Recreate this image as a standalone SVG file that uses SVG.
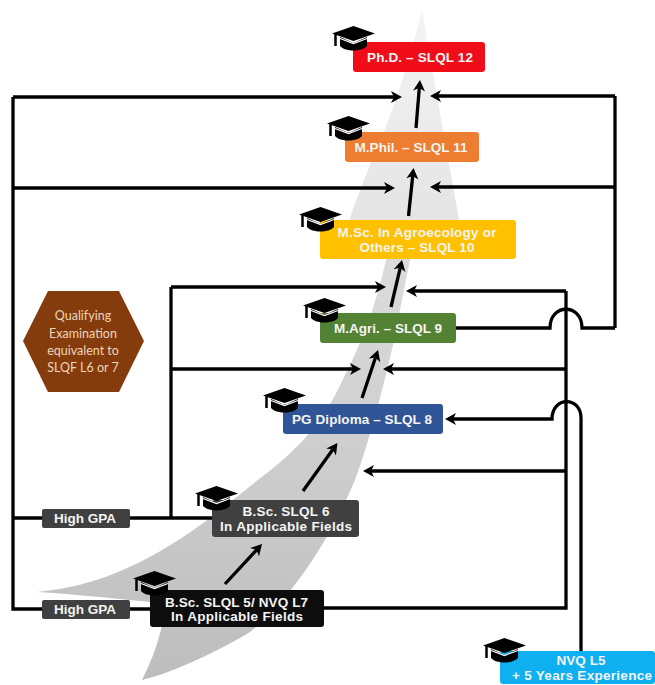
<svg xmlns="http://www.w3.org/2000/svg" xmlns:xlink="http://www.w3.org/1999/xlink" width="655" height="685" viewBox="0 0 655 685">
<style>
.box{stroke:none}
.t{font-family:"Liberation Sans",Arial,sans-serif;font-weight:700;font-size:13.5px;fill:#f4f4f4;text-anchor:middle}
.h{font-family:Lato,"Open Sans",sans-serif;font-size:12.5px;fill:#edd5bd;text-anchor:middle}
.c{fill:none;stroke:#000;stroke-width:3.3}
.a{marker-end:url(#ah)}
</style>
<defs>
<marker id="ah" markerUnits="userSpaceOnUse" markerWidth="12" markerHeight="13" refX="3" refY="6" orient="auto" overflow="visible"><path d="M0,0L11,6L0,12L3,6Z" fill="#000"/></marker>
<linearGradient id="g1" x1="0" y1="0" x2="0" y2="1"><stop offset="0" stop-color="#f4f4f4"/><stop offset="1" stop-color="#e2e2e2"/></linearGradient>
<linearGradient id="g2" x1="0" y1="0" x2="0" y2="1"><stop offset="0" stop-color="#dcdcdc"/><stop offset="1" stop-color="#bdbdbd"/></linearGradient>
<symbol id="hat" viewBox="0 0 43 25" overflow="visible">
<path d="M8,11V20C13,26 30,26 35,20V11L21.500,17Z" fill="#000"/>
<path d="M8,12.500L21.500,17.500L35,12.500" fill="none" stroke="#fff" stroke-width="1.200"/>
<path d="M0,7.500L21.500,0L43,7.500L21.500,15Z" fill="#000"/>
<path d="M3.500,8V20" stroke="#000" stroke-width="2.500" fill="none"/>
</symbol>
</defs>
<rect width="655" height="685" fill="#fff"/>
<g id="path-band">
<path d="M422,10C412,50 395,110 370,165C360,190 350,215 340,250L465,250C455,200 447,150 434,80Z" fill="url(#g1)"/>
<path d="M387,255C380,290 366,335 345,375C325,420 300,447 267,473C235,497 205,525 167,547C130,570 85,588 37,592C70,594 110,598 150,602L165,610C160,640 152,660 142,680C175,672 220,650 250,632C290,600 330,540 355,480C370,440 385,380 393,345L411,255Z" fill="url(#g2)"/>
</g>
<g id="connectors">
<path class="c a" d="M13,97H394"/>
<path class="c" d="M13,97V609H150"/>
<path class="c a" d="M13,188H387"/>
<path class="c" d="M13,518H212"/>
<path class="c" d="M171,518V287"/>
<path class="c a" d="M171,287H378"/>
<path class="c a" d="M171,369H353"/>
<path class="c" d="M615,328V96"/>
<path class="c a" d="M615,96H438"/>
<path class="c a" d="M615,187H438"/>
<path class="c" d="M456,328H550C550,303 582,303 582,328H615"/>
<path class="c" d="M324,608H566V291"/>
<path class="c a" d="M566,291H414"/>
<path class="c a" d="M566,369H391"/>
<path class="c a" d="M566,471H371"/>
<path class="c a" d="M581,651V418C581,396 552,396 552,419H453"/>
<path class="c a" d="M416,128L419.300,88"/>
<path class="c a" d="M408.500,216L412.700,176"/>
<path class="c a" d="M391,307L400.200,267.800"/>
<path class="c a" d="M362,398L375.500,357.600"/>
<path class="c a" d="M303,491L332.800,449.500"/>
<path class="c a" d="M225,584L256.600,549.900"/>
</g>
<g id="qualifying">
<path d="M48,291H119L144,341L119,392H48L23,341Z" fill="#843c0c"/>
<text class="h" x="83" y="320">Qualifying</text>
<text class="h" x="83" y="338">Examination</text>
<text class="h" x="83" y="355">equivalent to</text>
<text class="h" x="83" y="372">SLQF L6 or 7</text>
</g>
<g id="phd">
<rect class="box" x="353" y="42" width="132" height="30" rx="3" fill="#f00c18"/>
<text class="t" x="420" y="61.500" textLength="106">Ph.D. – SLQL 12</text>
<use href="#hat" x="332" y="26" width="43" height="25"/>
</g>
<g id="mphil">
<rect class="box" x="345" y="132" width="134" height="30" rx="3" fill="#ed7d31"/>
<text class="t" x="411" y="151.500" textLength="113">M.Phil. – SLQL 11</text>
<use href="#hat" x="327" y="116" width="43" height="25"/>
</g>
<g id="msc">
<rect class="box" x="320" y="220" width="196" height="39" rx="3" fill="#ffc000"/>
<text class="t" x="417" y="237" textLength="159">M.Sc. In Agroecology or</text>
<text class="t" x="417" y="252" textLength="115">Others – SLQL 10</text>
<use href="#hat" x="299" y="207" width="43" height="25"/>
</g>
<g id="magri">
<rect class="box" x="320" y="313" width="136" height="30" rx="3" fill="#548235"/>
<text class="t" x="388" y="333" textLength="108">M.Agri. – SLQL 9</text>
<use href="#hat" x="303" y="298" width="43" height="25"/>
</g>
<g id="pgdiploma">
<rect class="box" x="283" y="404" width="160" height="30" rx="3" fill="#2f5597"/>
<text class="t" x="362" y="424" textLength="140">PG Diploma – SLQL 8</text>
<use href="#hat" x="263" y="388" width="43" height="25"/>
</g>
<g id="gpa1">
<rect class="box" x="42" y="509" width="88" height="19" rx="2" fill="#404040"/>
<text class="t" x="85" y="523" textLength="62">High GPA</text>
</g>
<g id="bsc6">
<rect class="box" x="212" y="500" width="147" height="37" rx="3" fill="#404040"/>
<text class="t" x="286" y="515.500" textLength="87">B.Sc. SLQL 6</text>
<text class="t" x="286" y="530.500" textLength="132">In Applicable Fields</text>
<use href="#hat" x="195" y="486" width="43" height="25"/>
</g>
<g id="gpa2">
<rect class="box" x="42" y="600" width="88" height="19" rx="2" fill="#404040"/>
<text class="t" x="85" y="614" textLength="62">High GPA</text>
</g>
<g id="bsc5">
<rect class="box" x="150" y="590" width="174" height="37" rx="3" fill="#0d0d0d"/>
<text class="t" x="236.500" y="606.500" textLength="143">B.Sc. SLQL 5/ NVQ L7</text>
<text class="t" x="237" y="620.500" textLength="132">In Applicable Fields</text>
<use href="#hat" x="133" y="571" width="43" height="25"/>
</g>
<g id="nvq">
<rect class="box" x="500" y="651" width="155" height="33" rx="3" fill="#0fb0ef"/>
<text class="t" x="581" y="665" textLength="49">NVQ L5</text>
<text class="t" x="582" y="680" textLength="140">+ 5 Years Experience</text>
<use href="#hat" x="483" y="638" width="43" height="25"/>
</g>
</svg>
